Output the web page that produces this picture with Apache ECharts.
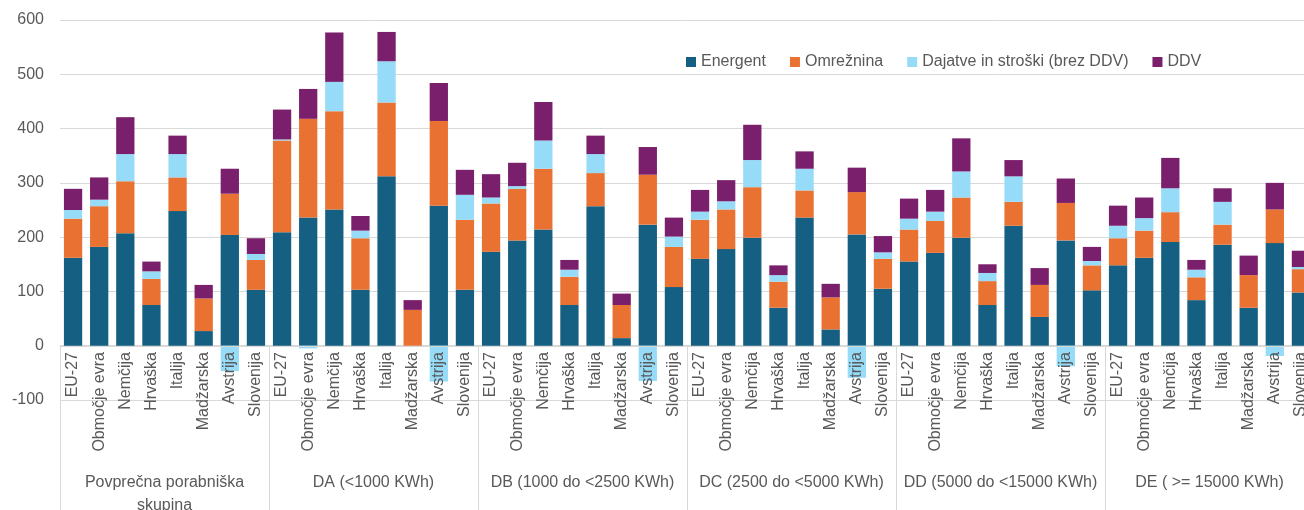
<!DOCTYPE html>
<html>
<head>
<meta charset="utf-8">
<script src="https://cdn.jsdelivr.net/npm/echarts@6/dist/echarts.min.js"></script>
<style>
html,body{margin:0;padding:0;background:#fff;}
#chart{width:1304px;height:510px;}
</style>
</head>
<body>
<div id="chart"></div>
<script>
const groups = ['Povprečna porabniška\nskupina', 'DA (<1000 KWh)', 'DB (1000 do <2500 KWh)', 'DC (2500 do <5000 KWh)', 'DD (5000 do <15000 KWh)', 'DE ( >= 15000 KWh)'];
const countries = ['EU-27', 'Območje evra', 'Nemčija', 'Hrvaška', 'Italija', 'Madžarska', 'Avstrija', 'Slovenija'];
const seriesNames = ['Energent', 'Omrežnina', 'Dajatve in stroški (brez DDV)', 'DDV'];
const yTicks = [-100, 0, 100, 200, 300, 400, 500, 600];

const energent = [162,182,207,75,248,27,204,103, 209,236,251,103,312,0,258,103, 173,194,214,75,257,14,223,108, 160,178,199,70,236,30,205,105, 155,171,199,75,221,53,194,102, 148,162,191,84,186,70,189,98];
const omreznina = [72,75,96,48,62,60,76,55, 169,182,181,95,136,66,156,129, 89,95,112,52,61,61,92,74, 72,73,93,48,50,59,78,55, 59,59,74,44,44,59,69,46, 50,50,55,42,37,60,62,43];
const dajatve = [16,12,50,14,43,0,-47,11, 2,-5,54,14,76,0,-66,46, 11,5,52,13,35,0,-65,19, 15,15,50,12,40,0,-59,12, 20,17,48,15,47,0,-38,8, 23,23,44,14,42,0,-19,4];
const ddv = [39,41,68,18,34,25,46,29, 55,55,91,27,54,18,70,46, 43,43,71,18,34,21,51,35, 40,39,65,18,32,25,45,30, 37,40,61,16,30,31,45,26, 37,38,56,18,25,36,49,30];

const colors = ['#156082', '#E97132', '#96DCF8', '#7A1F6B'];
const values = [energent, omreznina, dajatve, ddv];

const xCats = [];
groups.forEach(() => countries.forEach(c => xCats.push(c)));

const FONT = 'Liberation Sans';
const ZERO_OFFSET = -54;
const chart = echarts.init(document.getElementById('chart'));
chart.setOption({
  animation: false,
  textStyle: { fontFamily: FONT },
  color: colors,
  grid: { left: 60, width: 1254, top: 20, bottom: 110, containLabel: false, outerBoundsMode: 'none' },
  legend: {
    data: seriesNames,
    left: 681, top: 49,
    icon: 'rect', itemWidth: 10, itemHeight: 10, itemGap: 24,
    textStyle: { fontSize: 16, color: '#595959', fontFamily: FONT }
  },
  xAxis: [
    {
      type: 'category',
      data: xCats,
      position: 'bottom',
      offset: ZERO_OFFSET,
      z: 10,
      axisLine: { onZero: false, lineStyle: { color: '#d9d9d9', width: 1 } },
      axisTick: { show: false },
      axisLabel: { interval: 0, rotate: 90, margin: 6, fontSize: 16, color: '#595959', fontFamily: FONT }
    },
    {
      type: 'category',
      data: groups,
      position: 'bottom',
      offset: ZERO_OFFSET,
      axisLine: { show: false, onZero: false },
      axisTick: { show: true, interval: 0, length: 170, lineStyle: { color: '#d9d9d9', width: 1 } },
      axisLabel: { interval: 0, margin: 125, fontSize: 16, lineHeight: 23, color: '#595959', fontFamily: FONT, align: 'center' }
    }
  ],
  yAxis: {
    type: 'value',
    min: yTicks[0], max: yTicks[yTicks.length - 1], interval: 100,
    axisLine: { show: false },
    axisTick: { show: false },
    splitLine: { lineStyle: { color: '#d9d9d9', width: 1 } },
    axisLabel: { fontSize: 16, color: '#595959', margin: 16, fontFamily: FONT }
  },
  series: seriesNames.map((n, i) => ({
    name: n,
    type: 'bar',
    stack: 'total',
    xAxisIndex: 0,
    barCategoryGap: '30%',
    data: values[i],
    itemStyle: { color: colors[i] }
  }))
});
</script>
</body>
</html>
